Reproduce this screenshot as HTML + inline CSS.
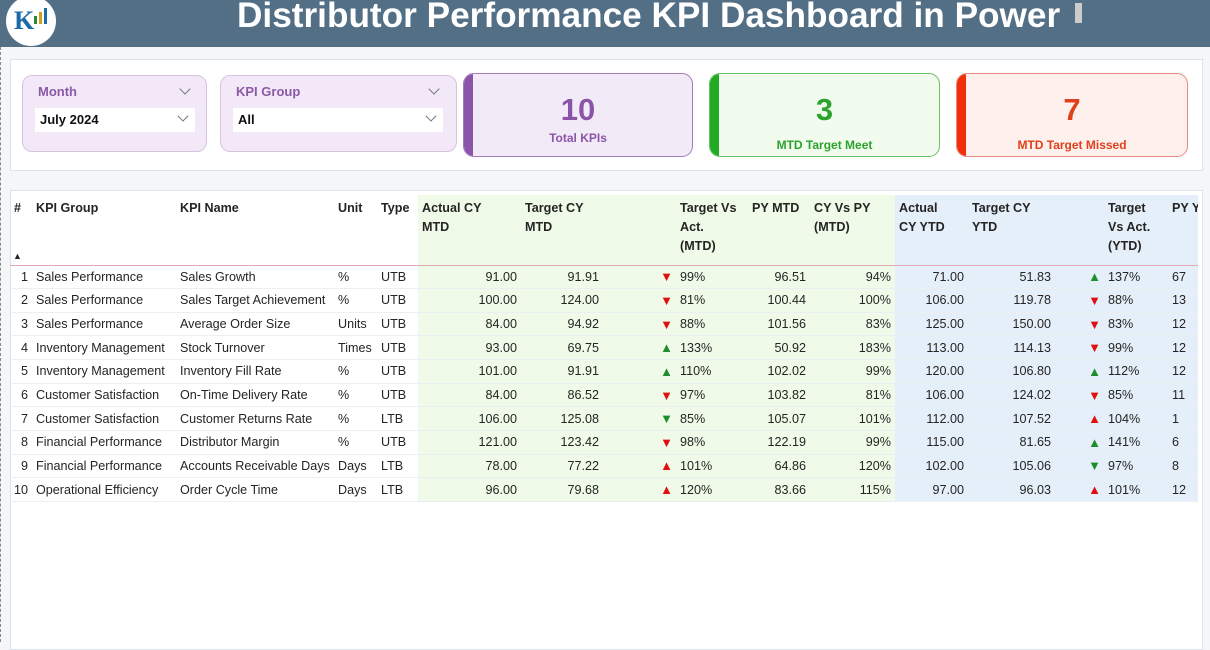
<!DOCTYPE html>
<html><head><meta charset="utf-8"><style>
*{margin:0;padding:0;box-sizing:border-box}
body{width:1210px;height:642px;overflow:hidden;background:#f4f6f8;font-family:"Liberation Sans",Arial,sans-serif;position:relative;color:#252423}
.hdr{position:absolute;left:0;top:0;width:1210px;height:47px;background:#536f86}
.title{position:absolute;left:237px;top:-4px;font-size:35.2px;font-weight:bold;color:#fff;white-space:nowrap}
.logo{position:absolute;left:6px;top:-4px;width:50px;height:50px;border-radius:50%;background:#fff}
.dash{position:absolute;left:0;top:47px;width:2px;height:595px;border-left:1px dashed #888}
.panel{position:absolute;background:#fff;border:1px solid #dde3ea}
.slicer{position:absolute;top:75px;height:77px;background:#f3e8f7;border:1px solid #d6c4df;border-radius:10px}
.slicer .lab{position:absolute;left:15px;top:8px;font-size:13px;font-weight:bold;color:#8a5aa8}
.slicer .box{position:absolute;left:12px;top:32px;height:24px;background:#fff}
.slicer .box span{position:absolute;left:5px;top:4px;font-size:13px;font-weight:bold;color:#111}
.chev{position:absolute;width:8px;height:8px;border-right:1.3px solid #777;border-bottom:1.3px solid #777;transform:rotate(45deg)}
.card{position:absolute;top:73px;height:84px;border-radius:11px;overflow:hidden}
.card .bar{position:absolute;left:0;top:0;width:9px;height:100%}
.card .num{position:absolute;left:0;width:100%;text-align:center;top:18px;font-size:31px;font-weight:bold}
.card .sub{position:absolute;left:0;width:100%;text-align:center;font-size:12px;font-weight:bold}
.wrap{position:absolute;left:10px;top:195px;width:1188px;height:320px;overflow:hidden}
table{width:1188px;border-collapse:collapse;table-layout:fixed;font-size:12.6px}
th{height:70px;vertical-align:top;text-align:left;font-weight:bold;padding:4px 4px 0 4px;line-height:19px;border-bottom:1.5px solid #e3a8b4;overflow:hidden;white-space:nowrap}
td{height:23.65px;padding:0 4px;white-space:nowrap;overflow:hidden;border-bottom:1px solid #eceff1}
.r{text-align:right}
.g{background:#effbe8}.b{background:#e5effa}
.up{color:#1e8e2a}.dn{color:#e01010}.ur{color:#e01010}.dg{color:#1e8e2a}
.ar{text-align:right;font-size:13px;padding-right:3px}
</style></head><body>
<div class="hdr"><div class="logo"><div style="position:absolute;left:8px;top:10px;font:bold 26px 'Liberation Serif',serif;color:#1c6aa8">K</div><div style="position:absolute;left:28px;top:20px;width:3px;height:8px;background:#2a8a3a"></div><div style="position:absolute;left:33px;top:16px;width:3px;height:12px;background:#d0a020"></div><div style="position:absolute;left:38px;top:12px;width:3px;height:16px;background:#1c6aa8"></div></div><div class="title">Distributor Performance KPI Dashboard in Power</div><div style="position:absolute;left:1075px;top:3px;width:7px;height:20px;background:#ccc"></div></div>
<div class="dash"></div>
<div class="panel" style="left:10px;top:59px;width:1193px;height:112px"></div>
<div class="slicer" style="left:22px;width:185px"><div class="lab">Month</div><div class="chev" style="left:158px;top:9px"></div><div class="box" style="width:160px"><span>July 2024</span><div class="chev" style="left:144px;top:4px"></div></div></div>
<div class="slicer" style="left:220px;width:237px"><div class="lab">KPI Group</div><div class="chev" style="left:209px;top:9px"></div><div class="box" style="width:210px"><span>All</span><div class="chev" style="left:194px;top:4px"></div></div></div>
<div class="card" style="left:463px;width:230px;background:#f3eaf8;border:1px solid #a47ab8"><div class="bar" style="background:#8a55a8"></div><div class="num" style="color:#8a55a8">10</div><div class="sub" style="top:57px;color:#8a55a8">Total KPIs</div></div>
<div class="card" style="left:709px;width:231px;background:#f1fcef;border:1px solid #6bbf66"><div class="bar" style="background:#22aa22"></div><div class="num" style="color:#2ca32c">3</div><div class="sub" style="top:64px;color:#2ca32c">MTD Target Meet</div></div>
<div class="card" style="left:956px;width:232px;background:#fef0ed;border:1px solid #e88a80"><div class="bar" style="background:#f0300a"></div><div class="num" style="color:#e0401a">7</div><div class="sub" style="top:64px;color:#e0401a">MTD Target Missed</div></div>
<div class="panel" style="left:10px;top:190px;width:1193px;height:460px"></div>
<div class="wrap"><table>
<colgroup><col style="width:22px"><col style="width:144px"><col style="width:158px"><col style="width:43px"><col style="width:41px"><col style="width:103px"><col style="width:82px"><col style="width:73px"><col style="width:72px"><col style="width:62px"><col style="width:85px"><col style="width:73px"><col style="width:87px"><col style="width:49px"><col style="width:64px"><col style="width:30px"></colgroup>
<tr><th style="position:relative">#<span style="position:absolute;left:3px;top:52px;font-size:9px">▲</span></th><th>KPI Group</th><th>KPI Name</th><th>Unit</th><th>Type</th><th class="g">Actual CY<br>MTD</th><th class="g">Target CY<br>MTD</th><th class="g"></th><th class="g">Target Vs<br>Act.<br>(MTD)</th><th class="g">PY MTD</th><th class="g">CY Vs PY<br>(MTD)</th><th class="b">Actual<br>CY YTD</th><th class="b">Target CY<br>YTD</th><th class="b"></th><th class="b">Target<br>Vs Act.<br>(YTD)</th><th class="b">PY YTD</th></tr>
<tr><td class="r">1</td><td>Sales Performance</td><td>Sales Growth</td><td>%</td><td>UTB</td><td class="g r">91.00</td><td class="g r">91.91</td><td class="g ar dn">▼</td><td class="g">99%</td><td class="g r">96.51</td><td class="g r">94%</td><td class="b r">71.00</td><td class="b r">51.83</td><td class="b ar up">▲</td><td class="b">137%</td><td class="b">67</td></tr>
<tr><td class="r">2</td><td>Sales Performance</td><td>Sales Target Achievement</td><td>%</td><td>UTB</td><td class="g r">100.00</td><td class="g r">124.00</td><td class="g ar dn">▼</td><td class="g">81%</td><td class="g r">100.44</td><td class="g r">100%</td><td class="b r">106.00</td><td class="b r">119.78</td><td class="b ar dn">▼</td><td class="b">88%</td><td class="b">13</td></tr>
<tr><td class="r">3</td><td>Sales Performance</td><td>Average Order Size</td><td>Units</td><td>UTB</td><td class="g r">84.00</td><td class="g r">94.92</td><td class="g ar dn">▼</td><td class="g">88%</td><td class="g r">101.56</td><td class="g r">83%</td><td class="b r">125.00</td><td class="b r">150.00</td><td class="b ar dn">▼</td><td class="b">83%</td><td class="b">12</td></tr>
<tr><td class="r">4</td><td>Inventory Management</td><td>Stock Turnover</td><td>Times</td><td>UTB</td><td class="g r">93.00</td><td class="g r">69.75</td><td class="g ar up">▲</td><td class="g">133%</td><td class="g r">50.92</td><td class="g r">183%</td><td class="b r">113.00</td><td class="b r">114.13</td><td class="b ar dn">▼</td><td class="b">99%</td><td class="b">12</td></tr>
<tr><td class="r">5</td><td>Inventory Management</td><td>Inventory Fill Rate</td><td>%</td><td>UTB</td><td class="g r">101.00</td><td class="g r">91.91</td><td class="g ar up">▲</td><td class="g">110%</td><td class="g r">102.02</td><td class="g r">99%</td><td class="b r">120.00</td><td class="b r">106.80</td><td class="b ar up">▲</td><td class="b">112%</td><td class="b">12</td></tr>
<tr><td class="r">6</td><td>Customer Satisfaction</td><td>On-Time Delivery Rate</td><td>%</td><td>UTB</td><td class="g r">84.00</td><td class="g r">86.52</td><td class="g ar dn">▼</td><td class="g">97%</td><td class="g r">103.82</td><td class="g r">81%</td><td class="b r">106.00</td><td class="b r">124.02</td><td class="b ar dn">▼</td><td class="b">85%</td><td class="b">11</td></tr>
<tr><td class="r">7</td><td>Customer Satisfaction</td><td>Customer Returns Rate</td><td>%</td><td>LTB</td><td class="g r">106.00</td><td class="g r">125.08</td><td class="g ar dg">▼</td><td class="g">85%</td><td class="g r">105.07</td><td class="g r">101%</td><td class="b r">112.00</td><td class="b r">107.52</td><td class="b ar ur">▲</td><td class="b">104%</td><td class="b">1</td></tr>
<tr><td class="r">8</td><td>Financial Performance</td><td>Distributor Margin</td><td>%</td><td>UTB</td><td class="g r">121.00</td><td class="g r">123.42</td><td class="g ar dn">▼</td><td class="g">98%</td><td class="g r">122.19</td><td class="g r">99%</td><td class="b r">115.00</td><td class="b r">81.65</td><td class="b ar up">▲</td><td class="b">141%</td><td class="b">6</td></tr>
<tr><td class="r">9</td><td>Financial Performance</td><td>Accounts Receivable Days</td><td>Days</td><td>LTB</td><td class="g r">78.00</td><td class="g r">77.22</td><td class="g ar ur">▲</td><td class="g">101%</td><td class="g r">64.86</td><td class="g r">120%</td><td class="b r">102.00</td><td class="b r">105.06</td><td class="b ar dg">▼</td><td class="b">97%</td><td class="b">8</td></tr>
<tr><td class="r">10</td><td>Operational Efficiency</td><td>Order Cycle Time</td><td>Days</td><td>LTB</td><td class="g r">96.00</td><td class="g r">79.68</td><td class="g ar ur">▲</td><td class="g">120%</td><td class="g r">83.66</td><td class="g r">115%</td><td class="b r">97.00</td><td class="b r">96.03</td><td class="b ar ur">▲</td><td class="b">101%</td><td class="b">12</td></tr>
</table></div>
</body></html>
